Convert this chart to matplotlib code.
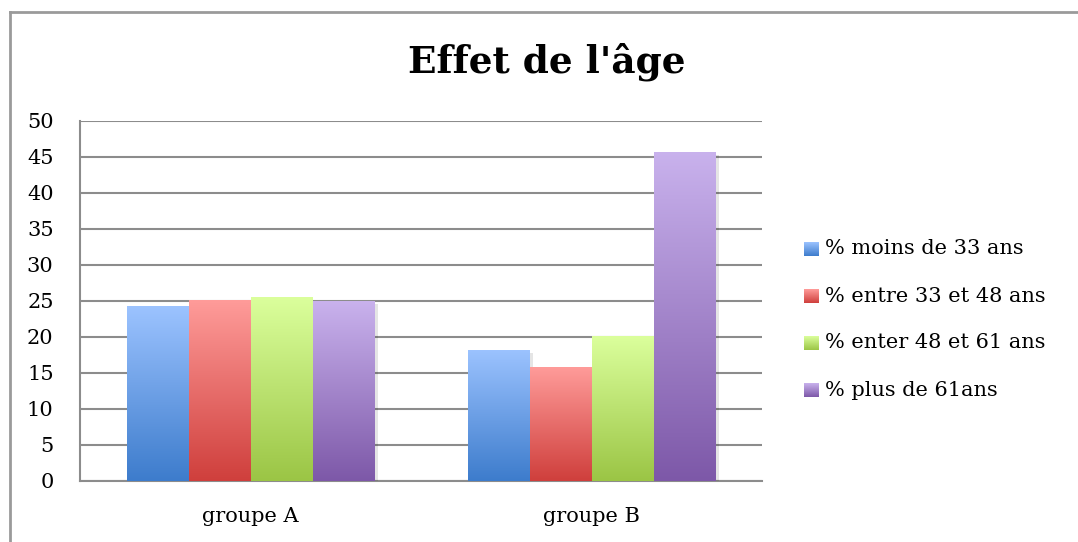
import numpy as np
import matplotlib
matplotlib.use("Agg")
import matplotlib.pyplot as plt
from matplotlib.colors import LinearSegmentedColormap
from matplotlib.lines import Line2D
import matplotlib.patheffects as pe

# data
groups = ["groupe A", "groupe B"]
series = ["% moins de 33 ans", "% entre 33 et 48 ans", "% enter 48 et 61 ans", "% plus de 61ans"]
moins_33 = [24.3, 18.2]
entre_33_48 = [25.2, 15.9]
entre_48_61 = [25.5, 20.1]
plus_61 = [25.0, 45.7]
values = [moins_33, entre_33_48, entre_48_61, plus_61]

# gradient colours (top, bottom) like the Excel 2007 style
grads = [("#9cc3ff", "#3d7ccc"),
         ("#ff9c9a", "#cf3f3c"),
         ("#dbff9c", "#9bc545"),
         ("#c9b2ed", "#7d58a8")]

FONT = "DejaVu Serif"
plt.rcParams["font.family"] = FONT

fig = plt.figure(figsize=(10.78, 5.42), dpi=100)
ax = fig.add_axes([80 / 1078, 61 / 542, 682 / 1078, 360 / 542])

x = np.arange(len(groups)) + 0.5
n = len(series)
width = 1 / (n + 1.5)
grad = np.linspace(0, 1, 256).reshape(-1, 1)

for i, (vals, (top, bot)) in enumerate(zip(values, grads)):
    pos = x + (i - (n - 1) / 2) * width
    bars = ax.bar(pos, vals, width, color=bot, linewidth=0, zorder=3)
    cmap = LinearSegmentedColormap.from_list(f"g{i}", [bot, top])
    for b in bars:
        b.set_path_effects([pe.SimplePatchShadow(offset=(2.5, -2.5), shadow_rgbFace="#000000", alpha=0.1),
                            pe.Normal()])
        x0, w, h = b.get_x(), b.get_width(), b.get_height()
        im = ax.imshow(grad, cmap=cmap, origin="lower", aspect="auto",
                       extent=[x0, x0 + w, 0, h], zorder=4)
        im.set_clip_path(b)

ax.set_xlim(0, len(groups))
ax.set_ylim(0, 50)
ax.set_yticks(np.arange(0, 51, 5))
ax.set_xticks(x)
ax.set_xticklabels(groups)
ax.tick_params(axis="y", length=0, pad=19, labelsize=15)
ax.tick_params(axis="x", length=0, pad=19, labelsize=15)
ax.yaxis.grid(True, color="#8c8c8c", linewidth=1.5, zorder=1)
ax.set_axisbelow(True)
for s in ["top", "right"]:
    ax.spines[s].set_visible(False)
for s in ["left", "bottom"]:
    ax.spines[s].set_color("#8c8c8c")
    ax.spines[s].set_linewidth(1.5)

# title
fig.text(547 / 1078, 1 - 62 / 542, "Effet de l'âge", ha="center", va="center",
         fontsize=27, fontweight="bold")

# legend drawn by hand with gradient squares
lax = fig.add_axes([0, 0, 1, 1], zorder=5)
lax.set_xlim(0, 1078)
lax.set_ylim(542, 0)
lax.axis("off")
for i, (label, (top, bot)) in enumerate(zip(series, grads)):
    yc = 249 + i * 47
    cmap = LinearSegmentedColormap.from_list(f"l{i}", [top, bot])
    lax.imshow(grad, cmap=cmap, origin="upper", aspect="auto",
               extent=[804, 819, yc + 7, yc - 7])
    lax.text(825, yc, label, fontsize=15, va="center", ha="left")
lax.set_xlim(0, 1078)
lax.set_ylim(542, 0)

# chart area border
fig.add_artist(Line2D([9.5 / 1078, 1.01], [1 - 11.5 / 542] * 2, transform=fig.transFigure,
                      color="#9a9a9a", linewidth=2))
fig.add_artist(Line2D([9.5 / 1078] * 2, [-0.01, 1 - 11.5 / 542], transform=fig.transFigure,
                      color="#9a9a9a", linewidth=2))

fig.savefig("out.png", dpi=100)
